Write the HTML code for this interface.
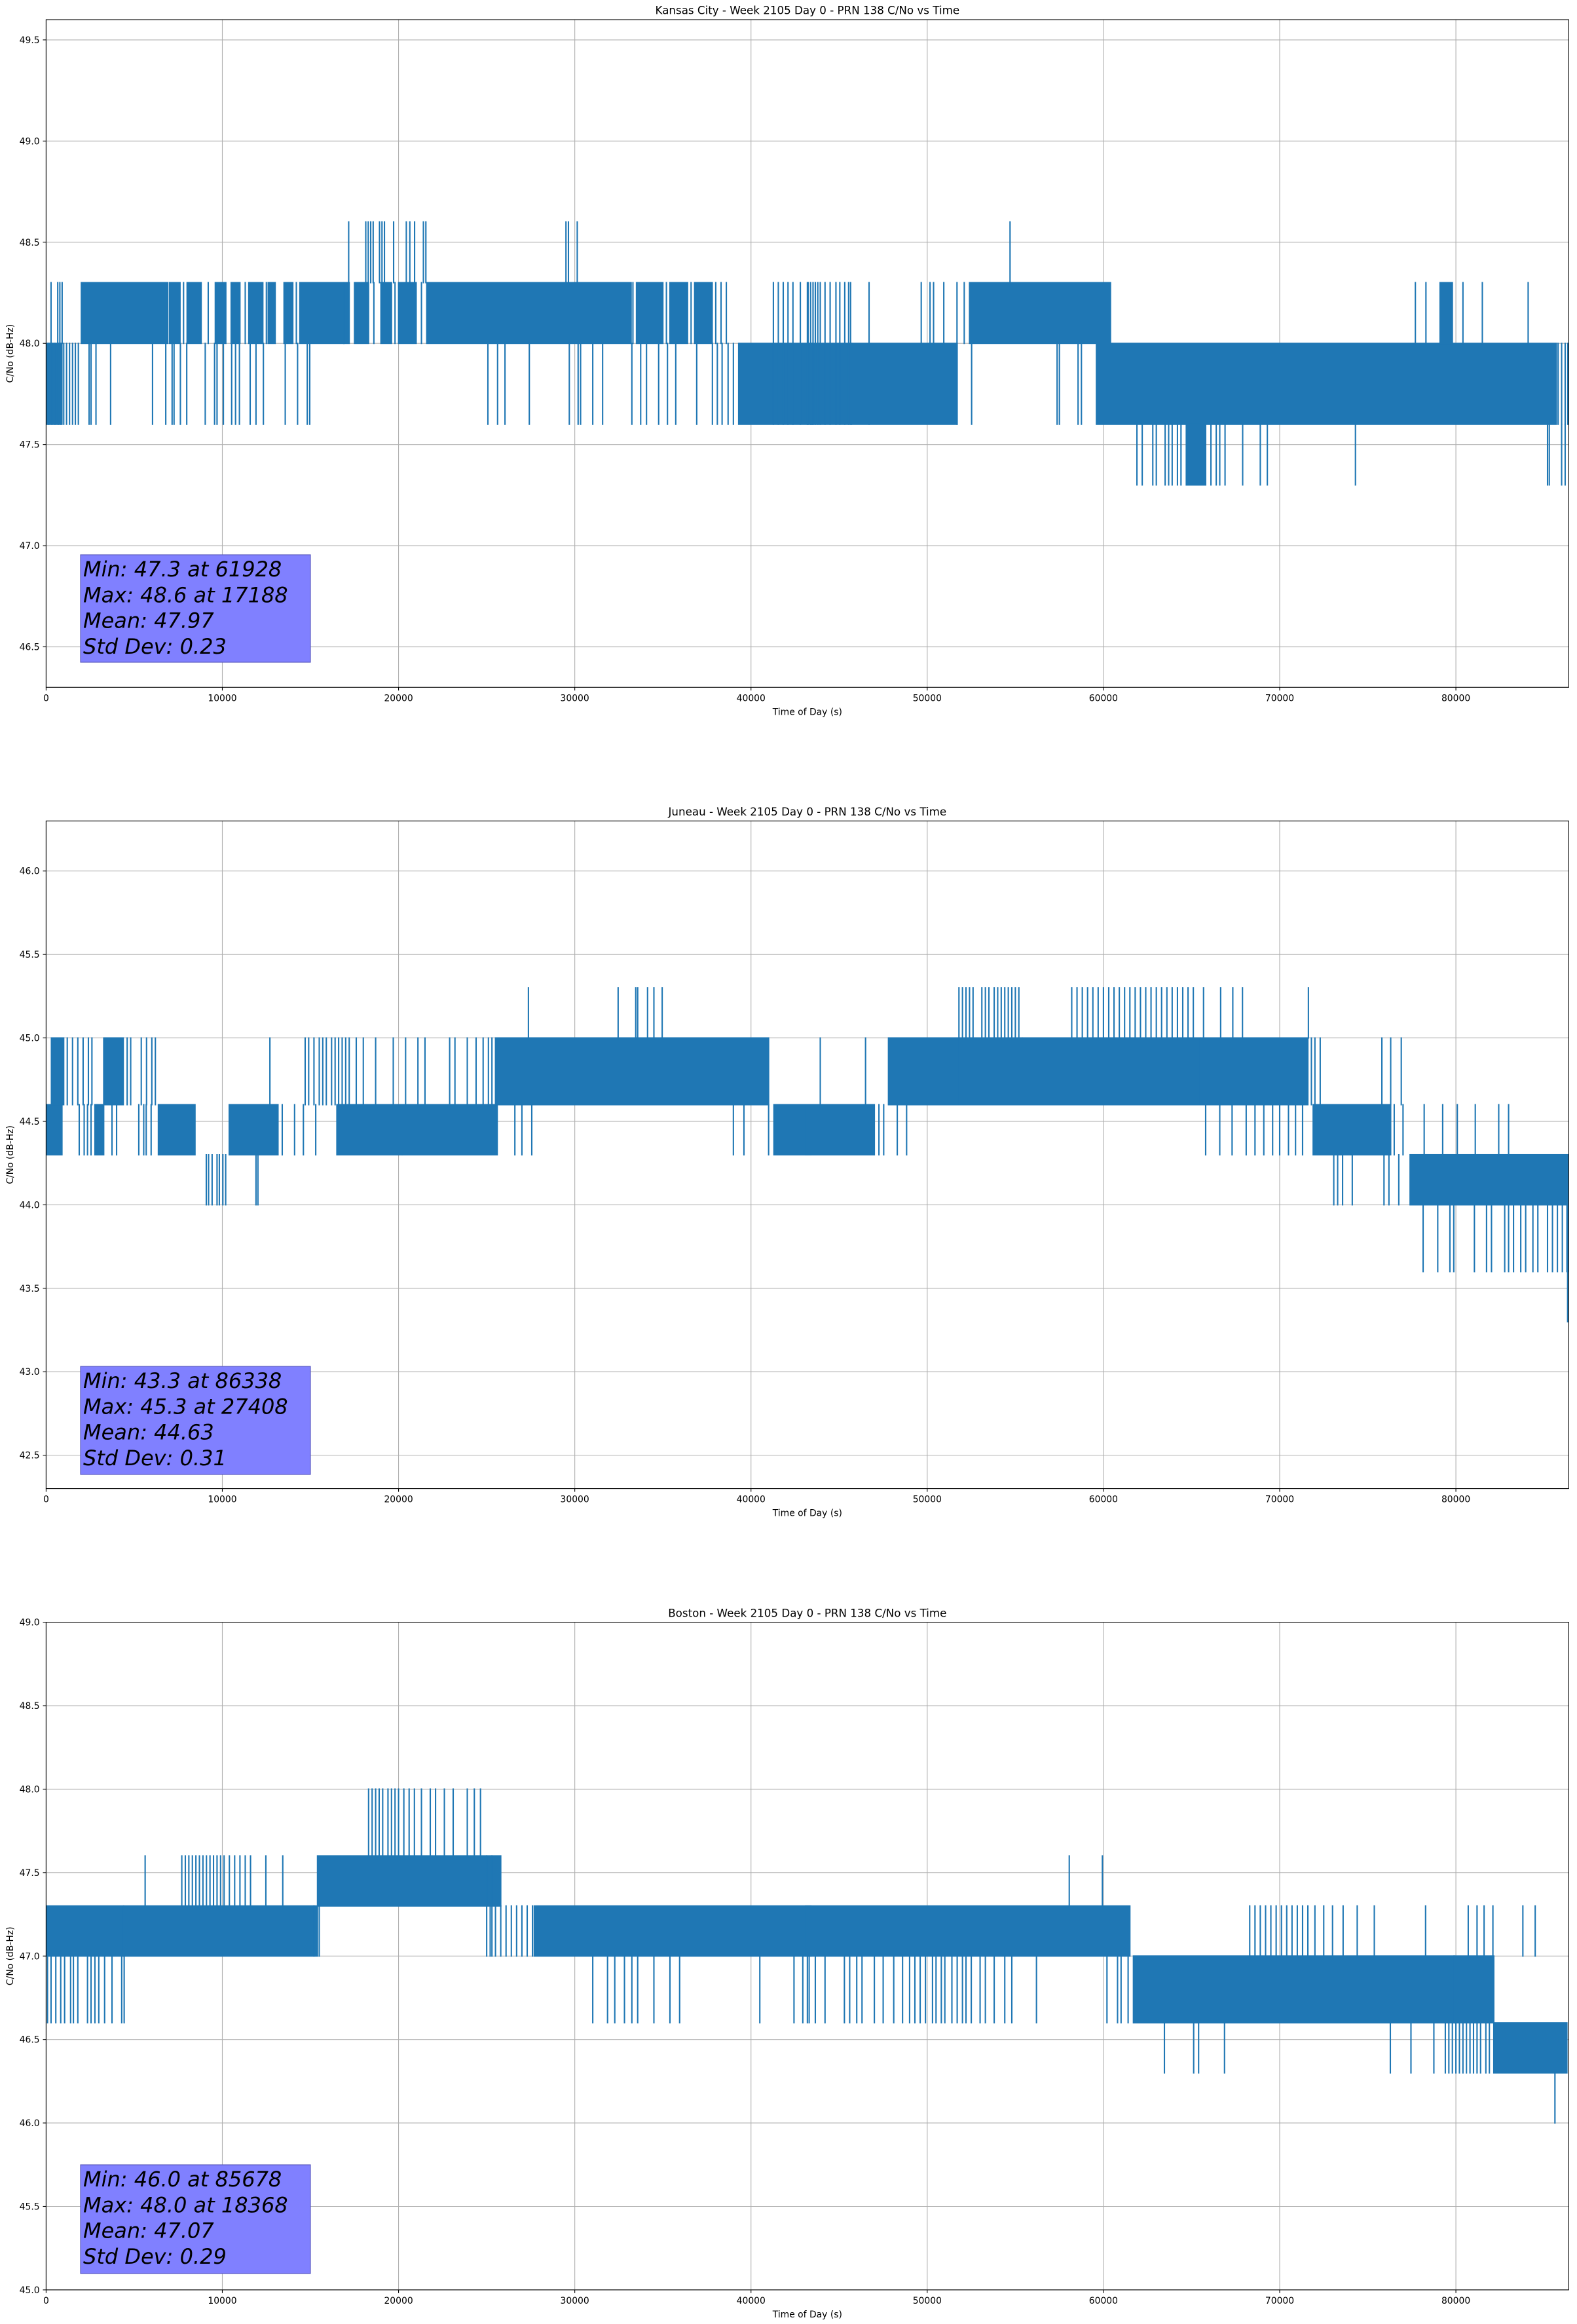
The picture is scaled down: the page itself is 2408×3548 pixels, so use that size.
<!DOCTYPE html>
<html>
<head>
<meta charset="utf-8">
<style>
html,body{margin:0;padding:0;background:#fff;}
svg{display:block;}
text{font-family:"DejaVu Sans","Liberation Sans",sans-serif;}
</style>
</head>
<body>
<svg id="fig" width="2408" height="3548" viewBox="0 0 2408 3548" xmlns="http://www.w3.org/2000/svg"></svg>
<script>
// ---------------- DATA (times in thousands of seconds) ----------------
const xTicks = [0,10000,20000,30000,40000,50000,60000,70000,80000];
const titles = ["Kansas City - Week 2105 Day 0 - PRN 138 C/No vs Time","Juneau - Week 2105 Day 0 - PRN 138 C/No vs Time","Boston - Week 2105 Day 0 - PRN 138 C/No vs Time"];
const yMins = [46.3,42.3,45.0];
const yMaxs = [49.6,46.3,49.0];
const yTicks0 = [46.5,47.0,47.5,48.0,48.5,49.0,49.5];
const yTicks1 = [42.5,43.0,43.5,44.0,44.5,45.0,45.5,46.0];
const yTicks2 = [45.0,45.5,46.0,46.5,47.0,47.5,48.0,48.5,49.0];
const stats0 = ["Min: 47.3 at 61928","Max: 48.6 at 17188","Mean: 47.97","Std Dev: 0.23"];
const stats1 = ["Min: 43.3 at 86338","Max: 45.3 at 27408","Mean: 44.63","Std Dev: 0.31"];
const stats2 = ["Min: 46.0 at 85678","Max: 48.0 at 18368","Mean: 47.07","Std Dev: 0.29"];

// Kansas City dense bands
const kcBandT0 = [2.0,7.0,8.0,9.6,10.5,11.5,12.6,13.5,14.4,17.5,19.0,20.0,21.6,33.5,35.4,36.8,39.3,43.4,45.7,52.4,59.6,64.7,79.1,0.0];
const kcBandT1 = [6.9,7.6,8.8,10.2,11.0,12.3,13.0,14.0,17.2,18.3,19.6,21.0,33.2,35.0,36.4,37.8,43.5,45.7,51.7,60.4,85.7,65.8,79.8,0.9];
const kcBandLo = [48.0,48.0,48.0,48.0,48.0,48.0,48.0,48.0,48.0,48.0,48.0,48.0,48.0,48.0,48.0,48.0,47.6,47.6,47.6,48.0,47.6,47.3,48.0,47.6];
const kcBandHi = [48.3,48.3,48.3,48.3,48.3,48.3,48.3,48.3,48.3,48.3,48.3,48.3,48.3,48.3,48.3,48.3,48.0,48.0,48.0,48.3,48.0,47.6,48.3,48.0];
// Kansas City spike groups
const kcSpikeLo = [47.6,48.0,48.3,48.0,47.6,47.3,47.6];
const kcSpikeHi = [48.0,48.3,48.6,48.3,48.0,47.6,48.3];
const kcSpikeT = [
 [0.14,0.33,0.5,0.69,0.83,1.0,1.16,1.33,1.5,1.66,1.83,2.44,2.55,2.83,3.66,6.04,6.79,7.15,7.26,7.62,7.98,9.03,9.56,9.7,10.06,10.53,10.75,10.97,11.58,11.91,12.33,13.57,14.27,14.82,14.96,25.07,25.62,26.04,27.42,29.69,30.19,30.33,31.02,31.58,33.24,33.74,34.07,34.76,35.26,35.73,36.92,37.81,38.09,38.36,38.7,39.0,57.37,57.5,58.56,58.75],
 [0.28,0.66,0.78,0.91,7.8,9.2,11.3,12.5,14.2,16.9,18.6,19.8,21.3,33.3,35.2,36.6,38.0,38.3,38.6,49.66,50.16,50.36,50.94,51.69,52.1,77.7,78.3,80.4,81.5,84.1],
 [17.17,18.14,18.28,18.42,18.56,18.92,19.06,19.2,19.72,20.44,20.64,20.91,21.41,21.55,29.5,29.64,30.14,54.7],
 [],
 [51.69,52.52,85.8,86.0,86.2,86.35],
 [61.9,62.2,62.8,63.0,63.5,63.7,63.9,64.2,64.4,66.1,66.4,66.6,66.9,67.9,68.9,69.3,74.3,85.2,85.3,86.0,86.2],
 [41.27,41.55,41.83,42.1,42.38,42.8,43.2,43.24,43.38,43.52,43.65,43.79,43.93,44.2,44.49,44.82,45.04,45.32,45.54,45.65,46.7]
];

// Juneau dense bands
const jnBandT0 = [0.0,0.3,3.27,2.77,6.37,10.39,16.5,20.2,25.5,41.3,43.1,47.8,51.8,55.4,65.5,71.9,77.4,86.3];
const jnBandT1 = [0.9,1.0,4.38,3.27,8.45,13.16,20.2,25.6,41.0,43.4,47.0,51.8,55.4,65.5,71.6,76.3,86.4,86.4];
const jnBandLo = [44.3,44.6,44.6,44.3,44.3,44.3,44.3,44.3,44.6,44.3,44.3,44.6,44.6,44.6,44.6,44.3,44.0,43.6];
const jnBandHi = [44.6,45.0,45.0,44.6,44.6,44.6,44.6,44.6,45.0,44.6,44.6,45.0,45.0,45.0,45.0,44.6,44.3,44.0];
const jnSpikeLo = [44.6,44.3,44.0,45.0,44.3,44.6,43.6,43.3];
const jnSpikeHi = [45.0,44.6,44.3,45.3,44.6,45.0,44.0,43.6];
const jnSpikeT = [
 [1.2,1.5,1.8,2.1,2.4,2.6,4.6,4.8,5.4,5.7,6.0,6.2,12.7,14.7,14.9,15.2,15.5,15.7,15.9,16.2,16.4,16.6,16.8,17.0,17.2,17.6,18.0,18.7,19.7,20.4,21.1,21.5,22.9,23.2,23.9,24.4,24.8,25.1,25.3,43.93,46.5,71.8,72.0,72.3,75.8,76.3,76.9],
 [1.88,2.16,2.35,2.55,3.74,4.0,5.26,5.54,5.68,5.96,13.4,14.1,14.6,15.3,26.6,27.0,27.56,39.0,39.6,41.0,47.26,47.53,48.3,48.83,65.8,66.6,67.3,68.1,68.6,69.1,69.6,70.0,70.5,70.9,71.3,76.5,77.0,78.2,79.25,80.08,81.1,82.43,82.99],
 [9.09,9.22,9.42,9.7,9.83,10.03,10.19,11.91,12.02,73.07,73.29,73.57,74.12,75.92,76.2,76.76],
 [27.37,32.46,33.46,33.57,34.13,34.49,34.96,51.8,52.0,52.2,52.4,52.6,53.1,53.3,53.5,53.8,54.0,54.2,54.4,54.6,54.8,55.0,55.2,58.2,58.5,58.8,59.1,59.4,59.7,60.0,60.3,60.6,60.9,61.2,61.5,61.8,62.1,62.4,62.7,63.0,63.3,63.6,63.9,64.2,64.5,64.8,65.1,65.68,66.65,67.34,67.89,71.63],
 [],
 [],
 [78.14,78.97,79.66,79.88,81.05,81.74,82.02,82.77,82.99,83.27,83.68,83.96,84.37,84.65,85.2,85.48,85.76,86.04],
 [86.34]
];

// Boston dense bands
const bsBandT0 = [0.0,4.4,15.4,27.7,43.1,61.7,82.15,79.9];
const bsBandT1 = [4.4,15.4,25.8,43.4,61.5,79.9,86.3,82.15];
const bsBandLo = [47.0,47.0,47.3,47.0,47.0,46.6,46.3,46.6];
const bsBandHi = [47.3,47.3,47.6,47.3,47.3,47.0,46.6,47.0];
const bsSpikeLo = [46.6,47.3,47.6,47.0,46.3,46.0,47.0];
const bsSpikeHi = [47.0,47.6,48.0,47.3,46.6,46.3,47.6];
const bsSpikeT = [
 [0.08,0.28,0.55,0.83,1.05,1.39,1.55,1.8,2.35,2.55,2.77,2.99,3.32,3.74,4.29,4.43,31.02,31.86,32.27,32.82,33.24,33.57,34.49,35.4,35.95,40.5,42.44,42.94,43.2,43.3,43.65,44.2,45.3,45.6,46.0,46.3,47.0,47.5,48.1,48.6,49.0,49.3,49.6,49.9,50.3,50.5,50.8,51.0,51.4,51.7,52.0,52.2,52.5,53.0,53.3,53.8,54.4,54.8,56.2,60.2,60.8,61.0,61.4],
 [5.62,7.7,7.9,8.1,8.3,8.5,8.7,8.9,9.1,9.3,9.5,9.7,9.9,10.1,10.4,10.7,11.0,11.3,11.6,12.47,13.43,58.06,59.94],
 [18.3,18.5,18.7,18.9,19.1,19.4,19.6,19.8,20.0,20.3,20.6,20.9,21.3,21.8,22.1,22.6,23.1,23.9,24.3,24.65],
 [15.2,15.5,25.2,25.5,25.8,26.1,26.4,26.7,27.0,27.3,27.6,68.3,68.6,68.9,69.2,69.5,69.8,70.1,70.4,70.7,71.0,71.3,71.6,72.0,72.5,73.0,73.6,74.4,75.37,78.28,80.7,81.2,81.6,82.1,83.8,84.5],
 [63.46,65.12,65.4,66.87,76.28,77.45,78.75,79.4,79.6,79.8,80.0,80.2,80.4,80.6,80.8,81.0,81.2,81.4,81.7,81.9],
 [85.62],
 [25.0,25.3]
];

// ---------------- RENDERING ----------------
const NS = "http://www.w3.org/2000/svg";
const svg = document.getElementById("fig");
const AX_L = 70.4, AX_R = 2395.3;
const AX_TOPS = [30, 1253.3, 2476.6];
const AX_H = 1019.3;
const BLUE = "#1f77b4";
const boxTops = [847, 2086, 3305];
const boxBottoms = [1011, 2251, 3471];

function mk(tag, attrs, parent) {
  const e = document.createElementNS(NS, tag);
  for (const k in attrs) e.setAttribute(k, attrs[k]);
  (parent || svg).appendChild(e);
  return e;
}

const allYTicks = [yTicks0, yTicks1, yTicks2];
const allStats = [stats0, stats1, stats2];
const allBands = [[kcBandT0,kcBandT1,kcBandLo,kcBandHi],[jnBandT0,jnBandT1,jnBandLo,jnBandHi],[bsBandT0,bsBandT1,bsBandLo,bsBandHi]];
const allSpikes = [[kcSpikeT,kcSpikeLo,kcSpikeHi],[jnSpikeT,jnSpikeLo,jnSpikeHi],[bsSpikeT,bsSpikeLo,bsSpikeHi]];

for (let p = 0; p < 3; p++) {
  const top = AX_TOPS[p], bot = top + AX_H;
  const ymin = yMins[p], ymax = yMaxs[p];
  const xs = t => AX_L + (t / 86400) * (AX_R - AX_L);
  const ys = v => bot - (v - ymin) / (ymax - ymin) * AX_H;

  const g = mk("g", {});
  
  

  const grid = mk("g", {stroke: "#b0b0b0", "stroke-width": 1.1}, g);
  
  
  xTicks.forEach(t => { mk("line", {x1: xs(t), x2: xs(t), y1: top, y2: bot}, grid); });
  allYTicks[p].forEach(v => { mk("line", {x1: AX_L, x2: AX_R, y1: ys(v), y2: ys(v)}, grid); });

  const clip = mk("clipPath", {id: "clip" + p}, g);
  mk("rect", {x: AX_L, y: top, width: AX_R - AX_L, height: AX_H}, clip);
  const series = mk("g", {"clip-path": "url(#clip" + p + ")"}, g);
  
  
  const [b0, b1, bl, bh] = allBands[p];
  for (let i = 0; i < b0.length; i++) {
    const r = mk("rect", {x: xs(b0[i]*1000) - 1, y: ys(bh[i]) - 1, width: Math.max(2, xs(b1[i]*1000) - xs(b0[i]*1000) + 2), height: ys(bl[i]) - ys(bh[i]) + 2, fill: BLUE}, series);
    
    
  }
  const [st, sl, sh] = allSpikes[p];
  for (let gi = 0; gi < st.length; gi++) {
    st[gi].forEach(t => {
      const l = mk("line", {x1: xs(t*1000), x2: xs(t*1000), y1: ys(sl[gi]) + 1, y2: ys(sh[gi]) - 1, stroke: BLUE, "stroke-width": 2.1}, series);
      
      
    });
  }

  const frame = mk("rect", {x: AX_L, y: top, width: AX_R - AX_L, height: AX_H, fill: "none", stroke: "#000", "stroke-width": 1.1}, g);
  
  

  const xt = mk("g", {}, g);
  
  
  xTicks.forEach(t => {
    mk("line", {x1: xs(t), x2: xs(t), y1: bot, y2: bot + 4.9, stroke: "#000", "stroke-width": 1.1}, xt);
    const tx = mk("text", {x: xs(t), y: bot + 21, "font-size": 13.9, "text-anchor": "middle", fill: "#000"}, xt);
    tx.textContent = String(t);
    
    
  });
  const yt = mk("g", {}, g);
  
  
  allYTicks[p].forEach(v => {
    mk("line", {x1: AX_L - 4.9, x2: AX_L, y1: ys(v), y2: ys(v), stroke: "#000", "stroke-width": 1.1}, yt);
    const tx = mk("text", {x: AX_L - 9.8, y: ys(v) + 5, "font-size": 13.9, "text-anchor": "end", fill: "#000"}, yt);
    tx.textContent = v.toFixed(1);
    
    
  });

  const ti = mk("text", {x: (AX_L + AX_R) / 2, y: top - 8.3, "font-size": 16.7, "text-anchor": "middle", fill: "#000"}, g);
  ti.textContent = titles[p];
  
  
  const xl = mk("text", {x: (AX_L + AX_R) / 2, y: bot + 42, "font-size": 13.9, "text-anchor": "middle", fill: "#000"}, g);
  xl.textContent = "Time of Day (s)";
  
  
  const cy = top + AX_H / 2;
  const yl = mk("text", {x: 20, y: cy, "font-size": 13.9, "text-anchor": "middle", fill: "#000", transform: "rotate(-90 20 " + cy + ")"}, g);
  yl.textContent = "C/No (dB-Hz)";
  
  

  const sb = mk("g", {}, g);
  
  
  mk("rect", {x: 123, y: boxTops[p], width: 351, height: boxBottoms[p] - boxTops[p], fill: "#8080ff", stroke: "#5c5cc0", "stroke-width": 1.2}, sb);
  allStats[p].forEach((s, i) => {
    const tx = mk("text", {x: 127, y: boxTops[p] + 33 + i * 39.3, "font-size": 32, "font-style": "italic", fill: "#000"}, sb);
    tx.textContent = s;
    
    
  });
}
</script>
</body>
</html>
